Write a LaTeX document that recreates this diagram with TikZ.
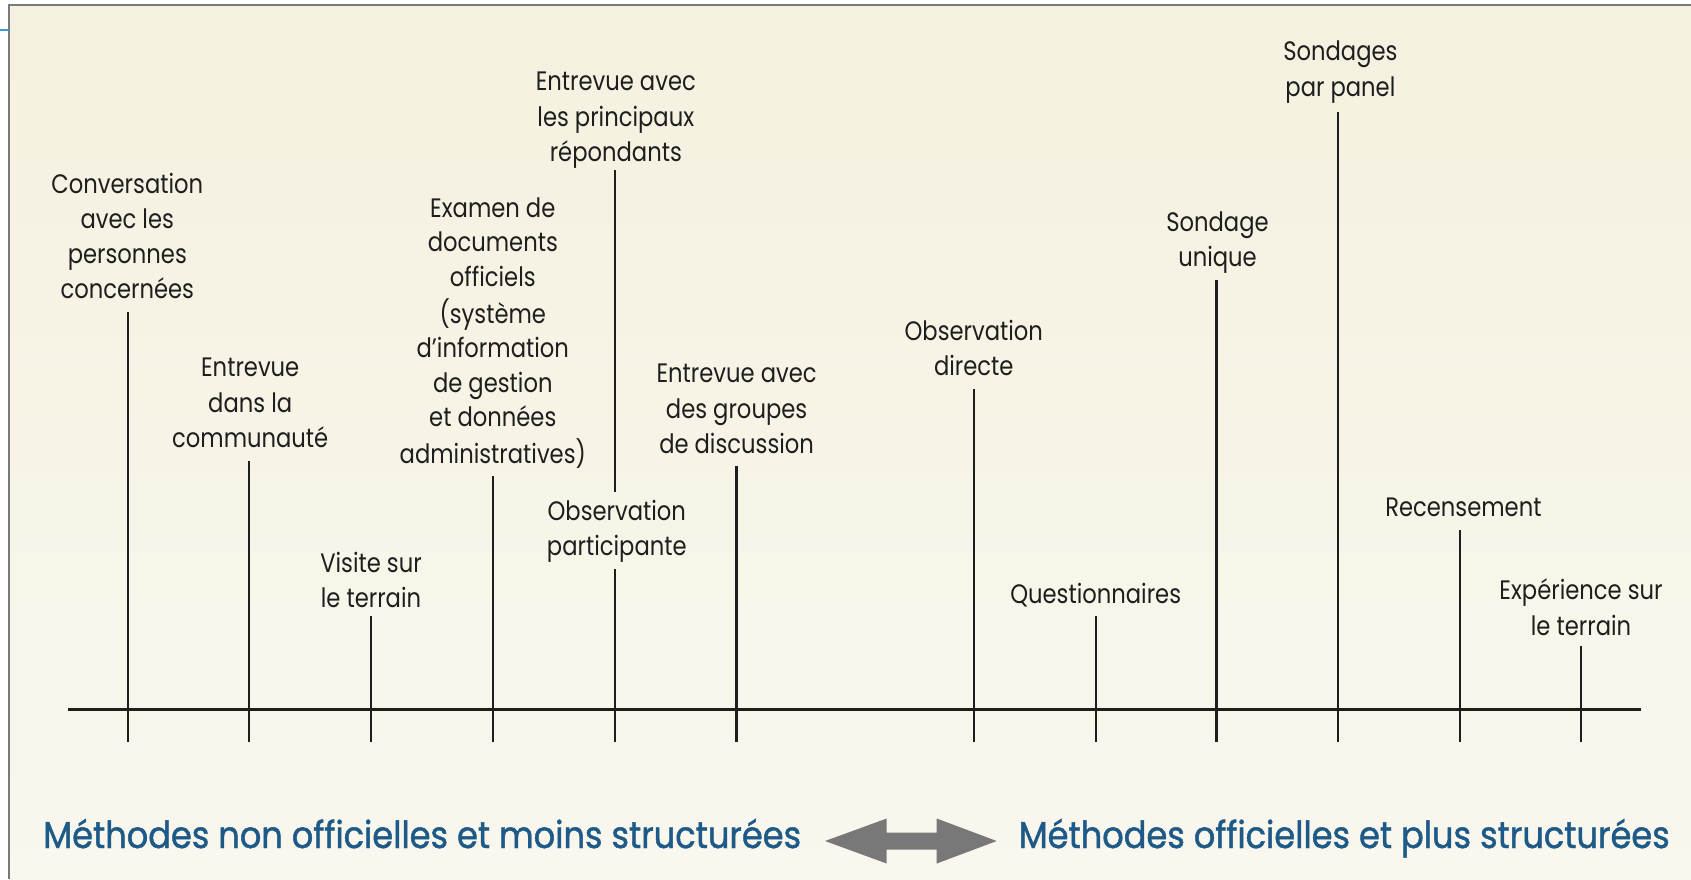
\documentclass[tikz,border=0pt]{standalone}
\usepackage{fontspec}
\setmainfont{Poppins}
\newfontfamily\lblfam[FakeStretch=0.85]{Poppins}
\newfontfamily\botfam[FakeStretch=0.90,FakeBold=1.2]{Poppins}
\definecolor{bgtop}{HTML}{F5F1E0}
\definecolor{bgbot}{HTML}{F9F7EE}
\definecolor{frame}{HTML}{7A7A7A}
\definecolor{capblue}{HTML}{3A9AD9}
\definecolor{darkblue}{HTML}{1D5A88}
\definecolor{arrowgray}{HTML}{787878}
\definecolor{ink}{HTML}{1E1E1E}
\begin{document}
\begin{tikzpicture}[x=0.75pt,y=-0.75pt,
  lbl/.style={font=\lblfam\fontsize{20}{26.4}\selectfont, align=center, inner sep=0pt, anchor=center, text=ink},
  tightlbl/.style={lbl, font=\lblfam\fontsize{20}{25.95}\selectfont},
  bot/.style={font=\botfam\fontsize{28}{34}\selectfont, inner sep=0pt, text=darkblue},
  stem/.style={draw=ink, line width=1.7pt},
  axis/.style={draw=ink, line width=1.7pt}]
\useasboundingbox (0,0) rectangle (1691,879);
% background panel
\shade[top color=bgtop, bottom color=bgbot] (9,5) rectangle (1691,879);
\draw[frame, line width=1.2pt] (9,879) -- (9,5) -- (1691,5);
\draw[capblue, line width=1.2pt] (0,30) -- (9,30);

% labels
\node[lbl] (conv) at (127.3,239) {\strut Conversation\\\strut avec les\\\strut personnes\\\strut concernées};
\node[lbl] (comm) at (250.2,405) {\strut Entrevue\\\strut dans la\\\strut communauté};
\node[lbl] (visite) at (371,583) {\strut Visite sur\\\strut le terrain};
\node[tightlbl] (exam) at (492.8,333.5) {\strut Examen de\\\strut documents\\\strut officiels\\\strut (système\\\strut d’information\\\strut de gestion\\\strut et données\\\strut administratives)};
\node[lbl] (princ) at (615.8,119) {\strut Entrevue avec\\\strut les principaux\\\strut répondants};
\node[lbl] (obsp) at (616.8,531) {\strut Observation\\\strut participante};
\node[lbl] (group) at (736.6,411) {\strut Entrevue avec\\\strut des groupes\\\strut de discussion};
\node[lbl] (obsd) at (973.8,351) {\strut Observation\\\strut directe};
\node[lbl] (quest) at (1095.7,596) {\strut Questionnaires};
\node[lbl] (sond) at (1217.5,242) {\strut Sondage\\\strut unique};
\node[lbl] (panel) at (1340.4,71.5) {\strut Sondages\\\strut par panel};
\node[lbl] (recens) at (1463.4,509) {\strut Recensement};
\node[lbl] (exper) at (1581,610.5) {\strut Expérience sur\\\strut le terrain};

% axis
\coordinate (axL) at (68,709.6);
\coordinate (axR) at (1641,709.6);
\draw[axis] (axL) -- (axR);

% stems
\foreach \n/\x/\t in {1/128.3/311.7, 2/249.1/460.5, 3/371.0/615.8, 4/492.8/475.6,
  6/736.6/465.9, 7/973.8/389.3, 8/1095.7/615.8, 9/1216.4/280.4,
  10/1338.3/112.2, 11/1460.1/529.5, 12/1581.0/646.0}{
  \coordinate (b\n) at (\x,742);
  \coordinate (top\n) at (\x,\t);
  \draw[stem] (b\n) -- (top\n);
}
% the stem shared by two labels, broken by "Observation participante"
\coordinate (b5) at (614.7,742);
\coordinate (top5a) at (614.7,569.4);
\coordinate (mid5) at (614.7,491.8);
\coordinate (top5) at (614.7,170.4);
\draw[stem] (b5) -- (top5a);
\draw[stem] (mid5) -- (top5);

% bottom captions
\node[bot, anchor=base west] (left) at (43,848) {Méthodes non officielles et moins structurées};
\node[bot, anchor=base east] (right) at (1670,848) {Méthodes officielles et plus structurées};
\fill[arrowgray] (825,841) -- (886.7,818.5) -- (886.7,832.5) -- (936.7,832.5) -- (936.7,818.5)
  -- (996.7,841) -- (936.7,863.5) -- (936.7,849.5) -- (886.7,849.5) -- (886.7,863.5) -- cycle;
\end{tikzpicture}
\end{document}
